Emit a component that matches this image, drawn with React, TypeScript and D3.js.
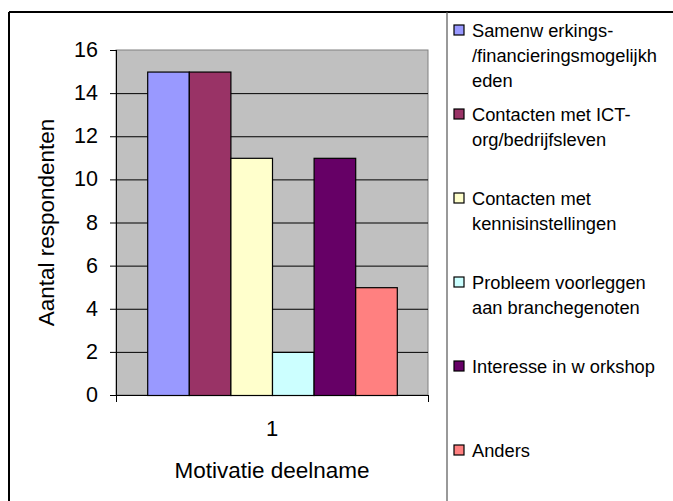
import React from 'react'
import * as d3 from 'd3'

const categories = ['1']
const seriesNames = [
  'Samenwerkings-/financieringsmogelijkheden',
  'Contacten met ICT-org/bedrijfsleven',
  'Contacten met kennisinstellingen',
  'Probleem voorleggen aan branchegenoten',
  'Interesse in workshop',
  'Anders',
]
const seriesValues = [15, 15, 11, 2, 11, 5]
const seriesColors = ['#9999FF', '#993366', '#FFFFCC', '#CCFFFF', '#660066', '#FF8080']
// legend text as it wraps in the picture
const legendLines = [
  ['Samenw erkings-', '/financieringsmogelijkh', 'eden'],
  ['Contacten met ICT-', 'org/bedrijfsleven'],
  ['Contacten met', 'kennisinstellingen'],
  ['Probleem voorleggen', 'aan branchegenoten'],
  ['Interesse in w orkshop'],
  ['Anders'],
]
const yTicks = [0, 2, 4, 6, 8, 10, 12, 14, 16]
const yTitle = 'Aantal respondenten'
const xTitle = 'Motivatie deelname'

const W = 673
const H = 501
const font = '"Liberation Sans", Arial, sans-serif'

export default function App() {
  const plot = { left: 116, right: 428, top: 50, bottom: 395 }

  const x0 = d3.scaleBand().domain(categories).range([plot.left, plot.right])
  const bw = x0.bandwidth()
  // excel gap width 150% -> half gap on each side
  const barW = bw / (seriesNames.length + 1.5)
  const x1 = d3
    .scaleBand()
    .domain(seriesNames)
    .range([barW * 0.75, bw - barW * 0.75])
    .padding(0)

  const y = d3.scaleLinear().domain([0, 16]).range([plot.bottom, plot.top])

  const legendY = d3.scalePoint().domain(seriesNames).range([30, 450])

  return (
    <svg
      width={W}
      height={H}
      style={{ position: 'absolute', left: 0, top: 0, display: 'block', background: '#fff' }}
      fontFamily={font}
    >
      {/* outer chart border */}
      <line x1={9} y1={12} x2={W} y2={12} stroke="#000" strokeWidth={2} />
      <line x1={9} y1={12} x2={9} y2={H} stroke="#000" strokeWidth={2} />

      {/* plot area */}
      <rect
        x={plot.left}
        y={plot.top}
        width={plot.right - plot.left}
        height={plot.bottom - plot.top}
        fill="#C0C0C0"
        stroke="#808080"
        strokeWidth={1}
      />

      {yTicks.map((t) => (
        <g key={t}>
          {t > 0 && t < 16 ? (
            <line x1={plot.left} x2={plot.right} y1={y(t) + 0.5} y2={y(t) + 0.5} stroke="#000" />
          ) : null}
          <line x1={plot.left - 6} x2={plot.left} y1={y(t) + 0.5} y2={y(t) + 0.5} stroke="#000" />
          <text
            x={98}
            y={y(t)}
            textAnchor="end"
            dominantBaseline="central"
            fontSize={21.5}
            fill="#000"
          >
            {t}
          </text>
        </g>
      ))}

      {categories.map((c) => (
        <g key={c} transform={`translate(${x0(c)},0)`}>
          {seriesNames.map((s, i) => (
            <rect
              key={s}
              x={x1(s)! + 0.5}
              y={y(seriesValues[i]) + 0.5}
              width={x1.bandwidth()}
              height={plot.bottom - y(seriesValues[i])}
              fill={seriesColors[i]}
              stroke="#000"
              strokeWidth={1.2}
            />
          ))}
          <text
            x={bw / 2}
            y={428}
            textAnchor="middle"
            dominantBaseline="central"
            fontSize={22}
          >
            {c}
          </text>
        </g>
      ))}

      {/* axes */}
      <line x1={plot.left + 0.5} x2={plot.left + 0.5} y1={plot.top} y2={plot.bottom} stroke="#000" />
      <line x1={plot.left} x2={plot.right} y1={plot.bottom + 0.5} y2={plot.bottom + 0.5} stroke="#000" />
      {[plot.left, plot.right].map((v) => (
        <line key={v} x1={v + 0.5} x2={v + 0.5} y1={plot.bottom} y2={plot.bottom + 7} stroke="#000" />
      ))}

      <text
        transform={`translate(46,${(plot.top + plot.bottom) / 2}) rotate(-90)`}
        textAnchor="middle"
        dominantBaseline="central"
        fontSize={22.5}
      >
        {yTitle}
      </text>
      <text x={272} y={470} textAnchor="middle" dominantBaseline="central" fontSize={22.5}>
        {xTitle}
      </text>

      {/* legend */}
      <line x1={447} x2={447} y1={12} y2={H} stroke="#555" strokeWidth={1.2} />
      {seriesNames.map((s, i) => (
        <g key={s} transform={`translate(0,${legendY(s)})`}>
          <rect x={454} y={-5} width={10} height={10} fill={seriesColors[i]} stroke="#000" strokeWidth={1.2} />
          {legendLines[i].map((ln, j) => (
            <text key={j} x={472} y={j * 25} dominantBaseline="central" fontSize={18.3}>
              {ln}
            </text>
          ))}
        </g>
      ))}
    </svg>
  )
}
